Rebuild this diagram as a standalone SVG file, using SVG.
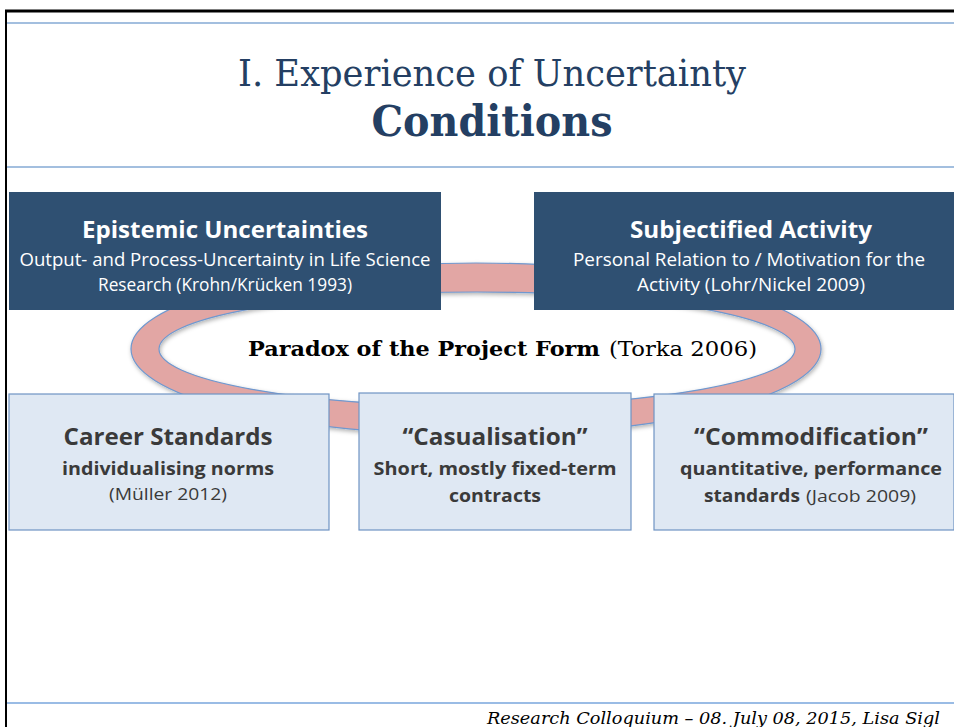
<svg xmlns="http://www.w3.org/2000/svg" width="954" height="727" viewBox="0 0 954 727">
<style>
.dark{fill:#2f5072;}
.light{fill:#dfe8f3;stroke:#6f93c3;stroke-width:1.2;}
.wt{fill:#ffffff;font-family:"Open Sans","Liberation Sans",sans-serif;text-anchor:middle;}
.gt{fill:#3a3a3a;font-family:"Open Sans","Liberation Sans",sans-serif;text-anchor:middle;}
.b{font-weight:bold;}
.serif{font-family:"DejaVu Serif","Liberation Serif",serif;}
</style>
<defs>
<filter id="sh" x="-10%" y="-20%" width="120%" height="140%">
<feDropShadow dx="1" dy="2" stdDeviation="2" flood-color="#000" flood-opacity="0.3"/>
</filter>
</defs>
<rect width="954" height="727" fill="#ffffff"/>
<!-- frame lines -->
<line x1="5" y1="11" x2="954" y2="11" stroke="#000" stroke-width="3"/>
<line x1="6" y1="10" x2="6" y2="727" stroke="#000" stroke-width="2"/>
<line x1="7" y1="23" x2="954" y2="23" stroke="#a3bfdf" stroke-width="2"/>
<line x1="7" y1="167" x2="954" y2="167" stroke="#a3bfdf" stroke-width="2"/>
<line x1="7" y1="703" x2="954" y2="703" stroke="#79a6dc" stroke-width="1.5"/>
<!-- title -->
<text x="492" y="86" class="serif" font-size="37" fill="#243f63" text-anchor="middle" textLength="508" lengthAdjust="spacingAndGlyphs">I. Experience of Uncertainty</text>
<text x="492" y="136" class="serif b" font-size="42" fill="#243f63" text-anchor="middle" textLength="241" lengthAdjust="spacingAndGlyphs">Conditions</text>
<!-- ring connector -->
<g id="connectors">
<path d="M131,349 A345,86 0 1,0 821,349 A345,86 0 1,0 131,349 Z M159,349 A318,57 0 1,1 795,349 A318,57 0 1,1 159,349 Z" fill="#e2a6a4" fill-rule="evenodd" stroke="#6f98cf" stroke-width="1.2" filter="url(#sh)"/>
</g>
<g id="paradox">
<text x="248" y="356" class="serif b" font-size="21" fill="#000" textLength="352" lengthAdjust="spacingAndGlyphs">Paradox of the Project Form</text>
<text x="609" y="356" class="serif" font-size="21" fill="#000" textLength="148" lengthAdjust="spacingAndGlyphs">(Torka 2006)</text>
</g>
<!-- dark boxes -->
<g id="epistemic">
<rect x="9" y="192" width="432" height="118" class="dark"/>
<text x="225" y="238" class="wt b" font-size="23" textLength="286" lengthAdjust="spacingAndGlyphs">Epistemic Uncertainties</text>
<text x="225" y="266" class="wt" font-size="17.5" textLength="411" lengthAdjust="spacingAndGlyphs">Output- and Process-Uncertainty in Life Science</text>
<text x="225" y="291" class="wt" font-size="17.5" textLength="254" lengthAdjust="spacingAndGlyphs">Research (Krohn/Krücken 1993)</text>
</g>
<g id="subjectified">
<rect x="534" y="192" width="420" height="118" class="dark"/>
<text x="751" y="238" class="wt b" font-size="23" textLength="242" lengthAdjust="spacingAndGlyphs">Subjectified Activity</text>
<text x="749" y="266" class="wt" font-size="17.5" textLength="352" lengthAdjust="spacingAndGlyphs">Personal Relation to / Motivation for the</text>
<text x="751" y="291" class="wt" font-size="17.5" textLength="228" lengthAdjust="spacingAndGlyphs">Activity (Lohr/Nickel 2009)</text>
</g>
<!-- light boxes -->
<g id="career">
<rect x="9" y="394" width="320" height="136" class="light"/>
<text x="168" y="445" class="gt b" font-size="23" textLength="209" lengthAdjust="spacingAndGlyphs">Career Standards</text>
<text x="168" y="475" class="gt b" font-size="18.5" textLength="212" lengthAdjust="spacingAndGlyphs">individualising norms</text>
<text x="168" y="500" class="gt" font-size="17" textLength="118" lengthAdjust="spacingAndGlyphs">(Müller 2012)</text>
</g>
<g id="casualisation">
<rect x="359" y="393" width="272" height="137" class="light"/>
<text x="495" y="445" class="gt b" font-size="23" textLength="185" lengthAdjust="spacingAndGlyphs">“Casualisation”</text>
<text x="495" y="475" class="gt b" font-size="18.5" textLength="243" lengthAdjust="spacingAndGlyphs">Short, mostly fixed-term</text>
<text x="495" y="502" class="gt b" font-size="18.5" textLength="92" lengthAdjust="spacingAndGlyphs">contracts</text>
</g>
<g id="commodification">
<rect x="654" y="394" width="300" height="136" class="light"/>
<text x="811" y="445" class="gt b" font-size="23" textLength="234" lengthAdjust="spacingAndGlyphs">“Commodification”</text>
<text x="811" y="475" class="gt b" font-size="18.5" textLength="262" lengthAdjust="spacingAndGlyphs">quantitative, performance</text>
<text x="704" y="502" class="gt b" font-size="18.5" style="text-anchor:start" textLength="96" lengthAdjust="spacingAndGlyphs">standards</text>
<text x="806" y="502" class="gt" font-size="17" style="text-anchor:start" textLength="110" lengthAdjust="spacingAndGlyphs">(Jacob 2009)</text>
</g>
<!-- footer -->
<text x="487" y="724" class="serif" font-style="italic" font-size="17" fill="#000" textLength="453" lengthAdjust="spacingAndGlyphs">Research Colloquium – 08. July 08, 2015, Lisa Sigl</text>
</svg>
